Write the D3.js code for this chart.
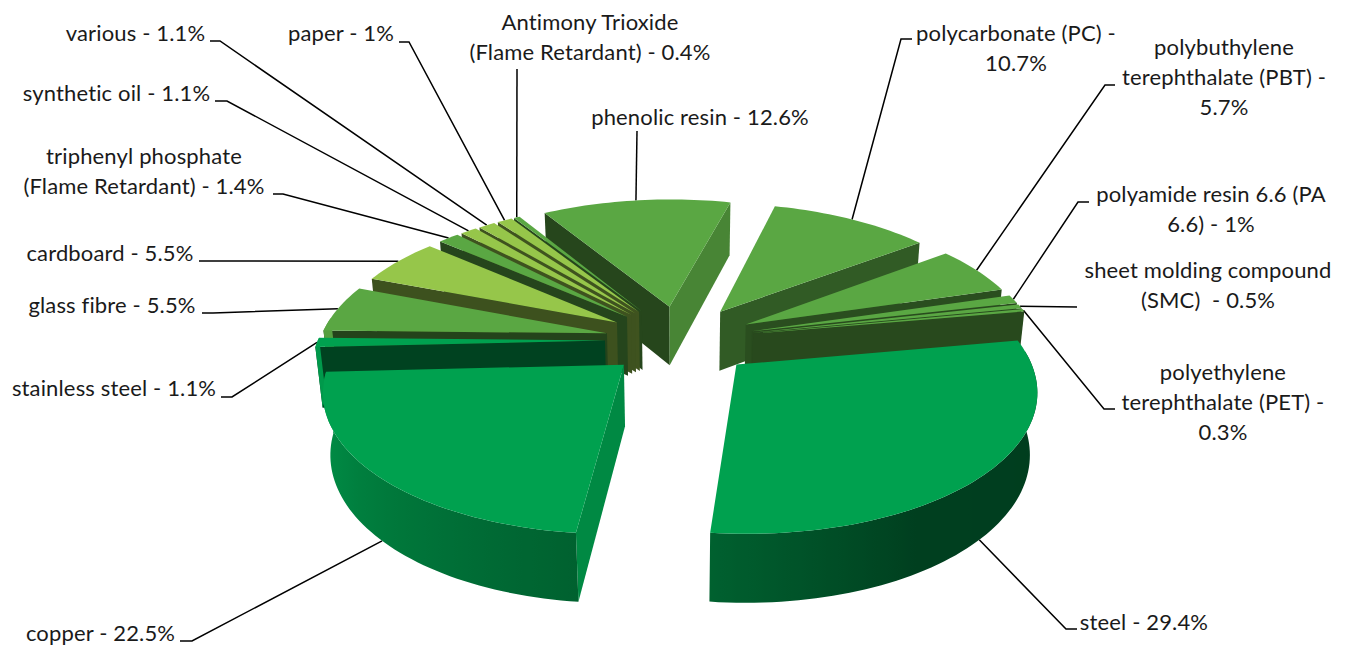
<!DOCTYPE html>
<html>
<head>
<meta charset="utf-8">
<script src="https://cdn.jsdelivr.net/npm/d3@7"></script>
<style>
html, body { margin: 0; background: #fff; }
svg { display: block; }
text { font-family: Lato, sans-serif; font-size: 22px; letter-spacing: 0.15px; fill: #1a1a1a; text-anchor: middle; }
</style>
</head>
<body>
<svg width="1346" height="646"></svg>
<script>
// Data
const materials = ["steel", "copper", "stainless steel", "glass fibre", "cardboard",
    "triphenyl phosphate", "synthetic oil", "various", "paper", "Antimony Trioxide",
    "phenolic resin", "polycarbonate", "polybuthylene terephthalate", "polyamide resin",
    "sheet molding compound", "polyethylene terephthalate"];
const shares = [29.4, 22.5, 1.1, 5.5, 5.5, 1.4, 1.1, 1.1, 1, 0.4, 12.6, 10.7, 5.7, 1, 0.5, 0.3];
const tones = ["dark", "dark", "dark", "mid", "light", "mid", "light", "light", "light", "mid",
    "mid", "mid", "mid", "mid", "mid", "mid"];
const labelLines = [
    ["steel - 29.4%"],
    ["copper - 22.5%"],
    ["stainless steel - 1.1%"],
    ["glass fibre - 5.5%"],
    ["cardboard - 5.5%"],
    ["triphenyl phosphate", "(Flame Retardant) - 1.4%"],
    ["synthetic oil - 1.1%"],
    ["various - 1.1%"],
    ["paper - 1%"],
    ["Antimony Trioxide", "(Flame Retardant) - 0.4%"],
    ["phenolic resin - 12.6%"],
    ["polycarbonate (PC) -", "10.7%"],
    ["polybuthylene", "terephthalate (PBT) -", "5.7%"],
    ["polyamide resin 6.6 (PA", "6.6) - 1%"],
    ["sheet molding compound", "(SMC)  - 0.5%"],
    ["polyethylene", "terephthalate (PET) -", "0.3%"]
];

// Layout of labels: centre x, first line y, leader elbow points
const labelLayout = [
    { x: 1144, y: 623, leader: [[1066, 629], [1077, 629]] },
    { x: 100.5, y: 634, leader: [[192, 641], [180, 641]] },
    { x: 114, y: 389, leader: [[232, 397], [221, 397]] },
    { x: 112, y: 306, leader: [[213, 313], [202, 313]] },
    { x: 110, y: 254, leader: [[213, 261], [199, 261]] },
    { x: 144, y: 157, leader: [[283, 194], [273, 194]] },
    { x: 116.5, y: 94, leader: [[227, 101], [215, 101]] },
    { x: 135.5, y: 34, leader: [[220, 41], [210, 41]] },
    { x: 341, y: 34, leader: [[409, 42], [399, 42]] },
    { x: 590, y: 23, leader: [[517, 69]] },
    { x: 700, y: 118, leader: [[637, 131]] },
    { x: 1016, y: 34, leader: [[901, 39], [912, 39]] },
    { x: 1224, y: 48, leader: [[1105, 85], [1115, 85]] },
    { x: 1211, y: 195, leader: [[1078, 202], [1089, 202]] },
    { x: 1208, y: 271, leader: [[1077, 307]] },
    { x: 1223, y: 373, leader: [[1104, 409], [1115, 409]] }
];

const topColor = { dark: "#00a14f", mid: "#5aa743", light: "#96c64a" };

// Pie geometry
const cx = 680, cy = 340;
const radius = 287, explode = 75, height3d = 69.5;
const tilt = 27.8 * Math.PI / 180, camera = 1608;
const lineHeight = 30;

const pie = d3.pie().sort(null)
    .startAngle(80 * Math.PI / 180)
    .endAngle((80 + 360) * Math.PI / 180);
const slices = pie(shares);

// Project a point of the pie plane (angle clockwise from the back) to the screen
function project(d, r, angle, z) {
    const mid = (d.startAngle + d.endAngle) / 2;
    const u = explode * Math.sin(mid) + r * Math.sin(angle);
    const v = explode * Math.cos(mid) + r * Math.cos(angle);
    const up = v * Math.sin(tilt) + z * Math.cos(tilt);
    const depth = camera + v * Math.cos(tilt) - z * Math.sin(tilt);
    return [cx + camera * u / depth, cy - camera * up / depth];
}

// Office style shading of the rim and the cut faces
const rimShade = d3.scaleLinear().domain([80, 150, 186, 225, 267, 360]).range([0.38, 0.39, 0.6, 0.76, 0.95, 0.95]).clamp(true);
const wallShade = d3.scaleLinear().domain([96, 142, 180, 240]).range([0.85, 0.55, 0.4, 0.42]).clamp(true);

function shaded(color, k) {
    const c = d3.rgb(color);
    return d3.rgb(c.r * k, c.g * k, c.b * k).formatHex();
}

const svg = d3.select("svg");
const defs = svg.append("defs");
const polyPath = d3.line().curve(d3.curveLinearClosed);
const deg = a => ((a * 180 / Math.PI) % 360 + 360) % 360;

// Leaders under the pie
const leaders = slices.map((d, i) => {
    const mid = (d.startAngle + d.endAngle) / 2;
    const m = deg(mid);
    const start = project(d, radius, mid, (m > 120 && m < 240) ? -height3d : 0);
    return [start].concat(labelLayout[i].leader);
});
svg.append("g").selectAll("path")
    .data(leaders)
    .join("path")
    .attr("d", d3.line())
    .attr("fill", "none")
    .attr("stroke", "#000")
    .attr("stroke-width", 1.5);

// Back slices first
const order = d3.range(slices.length).sort((a, b) => {
    const ma = (slices[a].startAngle + slices[a].endAngle) / 2;
    const mb = (slices[b].startAngle + slices[b].endAngle) / 2;
    return Math.cos(mb) - Math.cos(ma);
});

const pieG = svg.append("g");
order.forEach(i => {
    const d = slices[i];
    const base = topColor[tones[i]];
    const g = pieG.append("g").attr("class", "slice");
    const a0 = d.startAngle, a1 = d.endAngle;

    // cut faces
    [[a0, a0 - Math.PI / 2, 1], [a1, a1 + Math.PI / 2, -1]].forEach(([a, normal, dir]) => {
        const pts = [project(d, 0, a, 0), project(d, radius, a, 0),
            project(d, radius, a, -height3d), project(d, 0, a, -height3d)];
        if (d3.polygonArea(pts) * dir > 0) {
            g.append("path")
                .attr("d", polyPath(pts))
                .attr("fill", shaded(base, wallShade(deg(normal))));
        }
    });

    const steps = Math.max(2, Math.ceil((a1 - a0) / (1.5 * Math.PI / 180)));
    const angles = d3.range(steps + 1).map(s => a0 + (a1 - a0) * s / steps);

    // rim as one shape, the shade runs across it by a horizontal gradient
    const rimAngles = angles.filter(a => Math.cos(a) < 0.12);
    if (rimAngles.length > 1) {
        const topEdge = rimAngles.map(a => project(d, radius, a, 0));
        const bottomEdge = rimAngles.map(a => project(d, radius, a, -height3d)).reverse();
        const xs = topEdge.map(p => p[0]);
        const x0 = d3.min(xs), x1 = d3.max(xs);
        const stops = rimAngles
            .map((a, k) => ({ offset: (xs[k] - x0) / (x1 - x0), color: shaded(base, rimShade(deg(a))) }))
            .sort((p, q) => p.offset - q.offset);
        const gradId = "rim" + i;
        defs.append("linearGradient")
            .attr("id", gradId)
            .attr("gradientUnits", "userSpaceOnUse")
            .attr("x1", x0).attr("x2", x1)
            .attr("y1", 0).attr("y2", 0)
            .selectAll("stop")
            .data(stops)
            .join("stop")
            .attr("offset", s => s.offset)
            .attr("stop-color", s => s.color);
        g.append("path")
            .attr("d", polyPath(topEdge.concat(bottomEdge)))
            .attr("fill", `url(#${gradId})`);
    }

    // top face
    const topPts = [project(d, 0, a0, 0)].concat(angles.map(a => project(d, radius, a, 0)));
    g.append("path")
        .attr("d", polyPath(topPts))
        .attr("fill", base);
});

// Labels
const labels = svg.append("g").selectAll("text")
    .data(labelLines)
    .join("text")
    .attr("transform", (d, i) => `translate(${labelLayout[i].x},${labelLayout[i].y + 7})`);
labels.selectAll("tspan")
    .data(d => d)
    .join("tspan")
    .attr("x", 0)
    .attr("y", (d, i) => i * lineHeight)
    .attr("xml:space", "preserve")
    .text(d => d);
</script>
</body>
</html>
